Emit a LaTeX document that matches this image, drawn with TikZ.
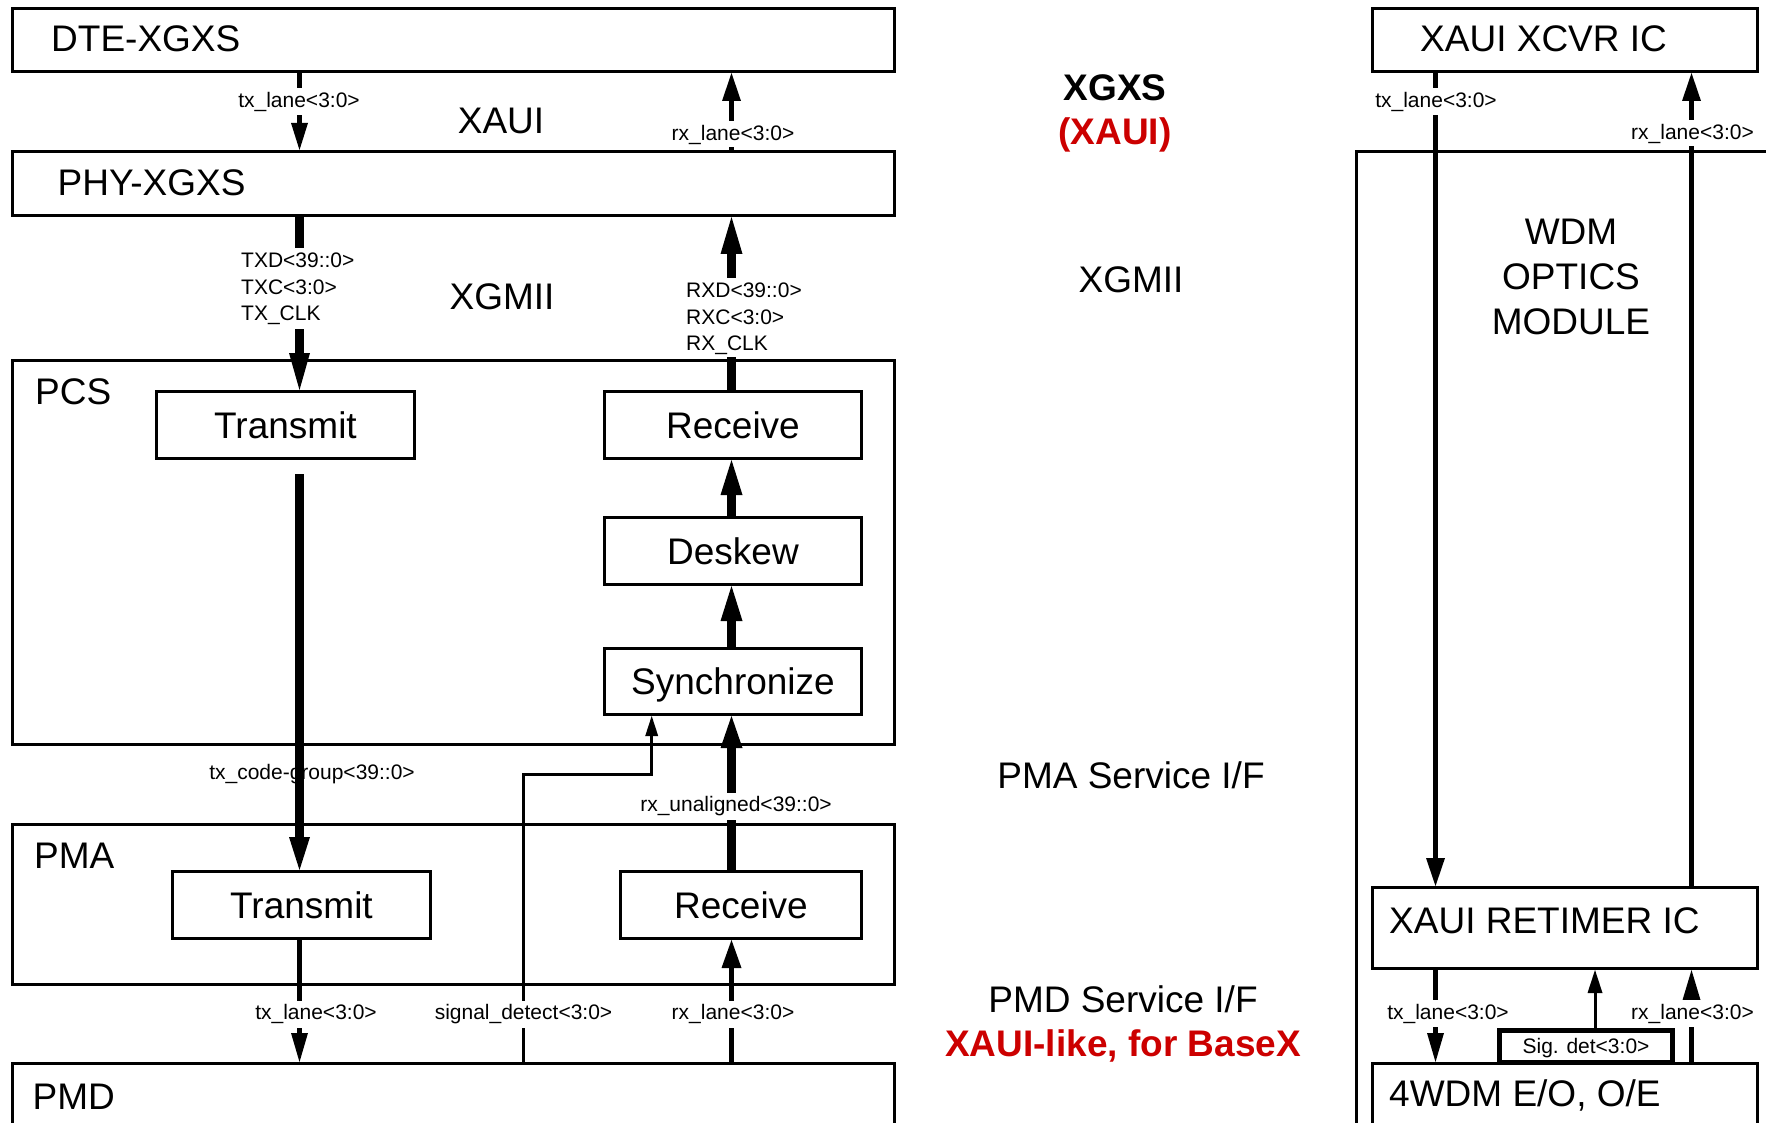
\documentclass[tikz,border=0pt]{standalone}
\usepackage{fontspec}
\setmainfont{Liberation Sans}
\usetikzlibrary{arrows.meta}
\definecolor{xred}{RGB}{204,0,0}
\begin{document}
\begin{tikzpicture}[x=1pt,y=-1pt, line join=miter,
 box/.style={draw, line width=3pt, inner sep=0pt, anchor=north west},
 bigf/.style={font=\fontsize{37}{44}\selectfont},
 big/.style={bigf, inner sep=0pt},
 bigb/.style={font=\fontsize{37}{44}\selectfont\bfseries, inner sep=0pt},
 inbox/.style={box, bigf, text height=26.5pt, text depth=0pt, minimum height=67pt},
 smallf/.style={font=\fontsize{21}{26.7}\selectfont},
 lbl/.style={smallf, fill=white, inner xsep=2pt, inner ysep=3pt, text height=16pt, text depth=5pt, anchor=base},
 medl/.style={line width=5.5pt},
 thkl/.style={line width=8.5pt},
 thnl/.style={line width=3pt},
 ahead/.style 2 args={-{Triangle[length=#1pt,width=#2pt,line width=0pt]}},
]
\path[use as bounding box, fill=white] (0,0) rectangle (1766,1123);

\coordinate (xa) at (299.5,0);
\coordinate (xb) at (731.5,0);
\coordinate (xs) at (523.5,0);
\coordinate (xt) at (651.7,0);
\coordinate (ys) at (0,774);
\coordinate (xc) at (1435.5,0);
\coordinate (xd) at (1691.5,0);
\coordinate (xe) at (1595,0);

% left column boxes
\node[box, minimum width=882pt, minimum height=63pt] (dte) at (11,7) {};
\node[box, minimum width=882pt, minimum height=64pt] (phy) at (11,150) {};
\node[box, minimum width=882pt, minimum height=384pt] (pcs) at (11,359) {};
\node[inbox, minimum width=258pt] (ptx) at (155,390) {Transmit};
\node[inbox, minimum width=257pt] (prx) at (603,390) {Receive};
\node[inbox, minimum width=257pt] (dsk) at (603,516) {Deskew};
\node[inbox, minimum width=257pt, minimum height=66pt] (syn) at (603,647) {Synchronize};
\node[box, minimum width=882pt, minimum height=160pt] (pma) at (11,823) {};
\node[inbox, minimum width=258pt] (mtx) at (171,870) {Transmit};
\node[inbox, minimum width=241pt] (mrx) at (619,870) {Receive};
\node[box, minimum width=882pt, minimum height=200pt] (pmd) at (11,1062) {};

% right column boxes
\node[box, minimum width=385pt, minimum height=63pt] (xcvr) at (1371,7) {};
\node[box, minimum width=700pt, minimum height=1100pt] (wdm) at (1355,150) {};
\node[box, minimum width=385pt, minimum height=81pt] (ret) at (1371,886) {};
\node[box, minimum width=385pt, minimum height=200pt] (wdme) at (1371,1062) {};
\node[box, line width=5pt, fill=white, smallf, anchor=center, minimum width=173pt, minimum height=32pt, text height=15pt, text depth=0pt] (sig) at (1586,1046) {Sig. det<3:0>};

% box titles
\node[big, anchor=base west] (tdte) at (51,51.8) {DTE-XGXS};
\node[big, anchor=base west] (tphy) at (57.5,195.3) {PHY-XGXS};
\node[big, anchor=base west] (tpcs) at (35,404) {PCS};
\node[big, anchor=base west] (tpma) at (34,868) {PMA};
\node[big, anchor=base west] (tpmd) at (32.5,1109) {PMD};
\node[big, anchor=base west] (txcvr) at (1420,51.7) {XAUI XCVR IC};
\node[big, anchor=base west] (tret) at (1389,933) {XAUI RETIMER IC};
\node[big, anchor=base west] (twdme) at (1389,1106) {4WDM E/O, O/E};
\node[big, anchor=base] (twdm1) at (1571,244.3) {WDM};
\node[big, anchor=base] (twdm2) at (1571,289.3) {OPTICS};
\node[big, anchor=base] (twdm3) at (1571,334.3) {MODULE};

% interface labels
\node[big, anchor=base] (txaui) at (501,133.3) {XAUI};
\node[big, anchor=base] (txgmii) at (502,309.5) {XGMII};
\node[bigb, anchor=base] (txgxs) at (1115,100.5) {XGXS};
\node[bigb, anchor=base, text=xred] (txaui2) at (1115,144.5) {(XAUI)};
\node[big, anchor=base] (txgmii2) at (1131,292.3) {XGMII};
\node[big, anchor=base] (tpmasi) at (1131,788.3) {PMA Service I/F};
\node[big, anchor=base] (tpmdsi) at (1123,1012.3) {PMD Service I/F};
\node[bigb, anchor=base, text=xred] (tlike) at (1123,1056.3) {XAUI-like, for BaseX};

% label under the tx code-group line
\node[smallf, inner sep=0pt, anchor=base] (lcg) at (312,779.5) {tx\_code-group<39::0>};

% connectors, left
\draw[medl, ahead={27}{17}] (dte.south -| xa) -- (phy.north -| xa);
\draw[medl, ahead={28}{19}] (phy.north -| xb) -- (dte.south -| xb);
\draw[thkl, ahead={37}{21}] (phy.south -| xa) -- (ptx.north -| xa);
\draw[thkl, ahead={37}{22}] (prx.north -| xb) -- (phy.south -| xb);
\draw[thkl, ahead={35}{22}] (dsk.north -| xb) -- (prx.south -| xb);
\draw[thkl, ahead={35}{22}] (syn.north -| xb) -- (dsk.south -| xb);
\draw[thkl, ahead={33}{21}, shorten <=14pt] (ptx.south -| xa) -- (mtx.north -| xa);
\draw[thkl, ahead={32}{22}] (mrx.north -| xb) -- (syn.south -| xb);
\draw[medl, ahead={29}{17}] (mtx.south -| xa) -- (pmd.north -| xa);
\draw[medl, ahead={28}{20}] (pmd.north -| xb) -- (mrx.south -| xb);
\draw[thnl, ahead={20}{13}] (pmd.north -| xs) -- (xs |- ys) -- (xt |- ys) -- (syn.south -| xt);

% connectors, right
\draw[medl, ahead={28}{19}] (xcvr.south -| xc) -- (ret.north -| xc);
\draw[medl, ahead={28}{19}] (ret.north -| xd) -- (xcvr.south -| xd);
\draw[medl, ahead={29}{17}] (ret.south -| xc) -- (wdme.north -| xc);
\draw[thnl, ahead={23}{15}] (sig.north -| xe) -- (ret.south -| xe);
\draw[medl, ahead={30}{18}] (wdme.north -| xd) -- (ret.south -| xd);

% connector labels
\node[lbl] (l1) at (299,107.5) {tx\_lane<3:0>};
\node[lbl, text depth=4pt] (l2) at (733,140.5) {rx\_lane<3:0>};
\node[lbl, anchor=base west] (l3a) at (239,267.5) {TXD<39::0>};
\node[lbl, anchor=base west] (l3b) at (239,294.5) {TXC<3:0>};
\node[lbl, anchor=base west] (l3c) at (239,320.5) {TX\_CLK};
\node[lbl, anchor=base west] (l4a) at (684,297.5) {RXD<39::0>};
\node[lbl, anchor=base west] (l4b) at (684,324) {RXC<3:0>};
\node[lbl, anchor=base west, text height=17pt, text depth=4pt, inner ysep=2pt] (l4c) at (684,350.5) {RX\_CLK};
\node[lbl] (l5) at (736,811.5) {rx\_unaligned<39::0>};
\node[lbl] (l6) at (316,1019.5) {tx\_lane<3:0>};
\node[lbl] (l7) at (523.5,1019.5) {signal\_detect<3:0>};
\node[lbl] (l8) at (733,1019.5) {rx\_lane<3:0>};
\node[lbl] (l9) at (1436,107.5) {tx\_lane<3:0>};
\node[lbl, text depth=4pt] (l10) at (1692.5,139.5) {rx\_lane<3:0>};
\node[lbl] (l11) at (1448,1019) {tx\_lane<3:0>};
\node[lbl] (l12) at (1692.5,1019) {rx\_lane<3:0>};
\end{tikzpicture}
\end{document}
